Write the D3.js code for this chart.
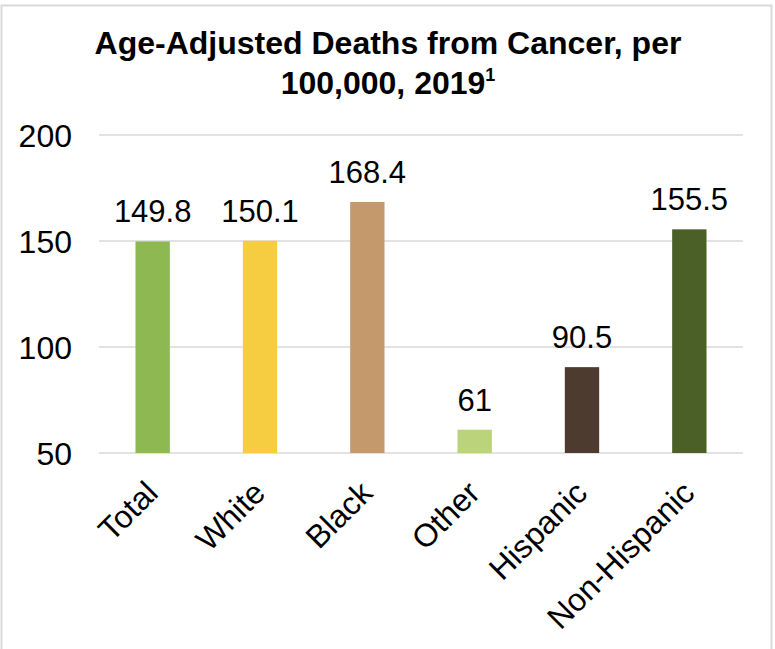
<!DOCTYPE html>
<html>
<head>
<meta charset="utf-8">
<script src="https://cdn.jsdelivr.net/npm/d3@7"></script>
<style>
  html, body { margin: 0; padding: 0; background: #fff; }
  text { font-family: "Liberation Sans", Arial, sans-serif; fill: #000; }
</style>
</head>
<body>
<div id="chart"></div>
<script>
const categories = ["Total", "White", "Black", "Other", "Hispanic", "Non-Hispanic"];
const values = [149.8, 150.1, 168.4, 61, 90.5, 155.5];
const valueLabels = ["149.8", "150.1", "168.4", "61", "90.5", "155.5"];
const barColors = ["#8db852", "#f6cd40", "#c4996c", "#bbd47c", "#4e3b2f", "#4a6027"];
const yTicks = [50, 100, 150, 200];

const width = 775, height = 649;
const margin = { top: 135, right: 32, bottom: 196, left: 99 };

const svg = d3.select("#chart")
  .append("svg")
  .attr("width", width)
  .attr("height", height);

// outer frame
svg.append("rect")
  .attr("x", 1.5)
  .attr("y", 5.5)
  .attr("width", 770)
  .attr("height", 660)
  .attr("fill", "none")
  .attr("stroke", "#d9d9d9")
  .attr("stroke-width", 2);

const xScale = d3.scaleBand()
  .domain(categories)
  .range([margin.left, width - margin.right])
  .paddingInner(0.68)
  .paddingOuter(0.34);

const yScale = d3.scaleLinear()
  .domain([50, 200])
  .range([height - margin.bottom, margin.top]);

// gridlines
svg.append("g")
  .selectAll("line")
  .data(yTicks)
  .join("line")
  .attr("x1", margin.left)
  .attr("x2", width - margin.right)
  .attr("y1", d => yScale(d))
  .attr("y2", d => yScale(d))
  .attr("stroke", "#d9d9d9")
  .attr("stroke-width", 1.5);

// y axis labels
const yAxis = svg.append("g")
  .attr("transform", `translate(${margin.left - 27}, 0)`)
  .call(d3.axisLeft(yScale).tickValues(yTicks).tickSize(0).tickPadding(0));
yAxis.select(".domain").remove();
yAxis.selectAll("text")
  .style("font-size", "32px")
  .attr("fill", "#000")
  .attr("dy", "0.35em");

// bars
svg.selectAll(".bar")
  .data(categories)
  .join("rect")
  .attr("class", "bar")
  .attr("x", d => xScale(d))
  .attr("y", (d, i) => yScale(values[i]))
  .attr("width", xScale.bandwidth())
  .attr("height", (d, i) => yScale(50) - yScale(values[i]))
  .attr("fill", (d, i) => barColors[i]);

// value labels
svg.selectAll(".value")
  .data(categories)
  .join("text")
  .attr("class", "value")
  .attr("x", d => xScale(d) + xScale.bandwidth() / 2)
  .attr("y", (d, i) => yScale(values[i]) - 19)
  .attr("text-anchor", "middle")
  .style("font-size", "31px")
  .text((d, i) => valueLabels[i]);

// x axis labels
const xAxis = svg.append("g")
  .attr("transform", `translate(0, ${height - margin.bottom})`)
  .call(d3.axisBottom(xScale).tickSize(0).tickPadding(0));
xAxis.select(".domain").remove();
xAxis.selectAll("text")
  .style("font-size", "32px")
  .attr("fill", "#000")
  .attr("text-anchor", "end")
  .attr("dy", "0")
  .attr("transform", "translate(7, 42) rotate(-45)");

// title
const title = svg.append("text")
  .attr("x", 388)
  .attr("text-anchor", "middle")
  .style("font-size", "32px")
  .style("font-weight", "bold");
title.append("tspan").attr("x", 388).attr("y", 54).text("Age-Adjusted Deaths from Cancer, per");
const line2 = title.append("tspan").attr("x", 388).attr("y", 94);
line2.append("tspan").text("100,000, 2019");
line2.append("tspan").attr("dy", -13).style("font-size", "18px").text("1");
</script>
</body>
</html>
